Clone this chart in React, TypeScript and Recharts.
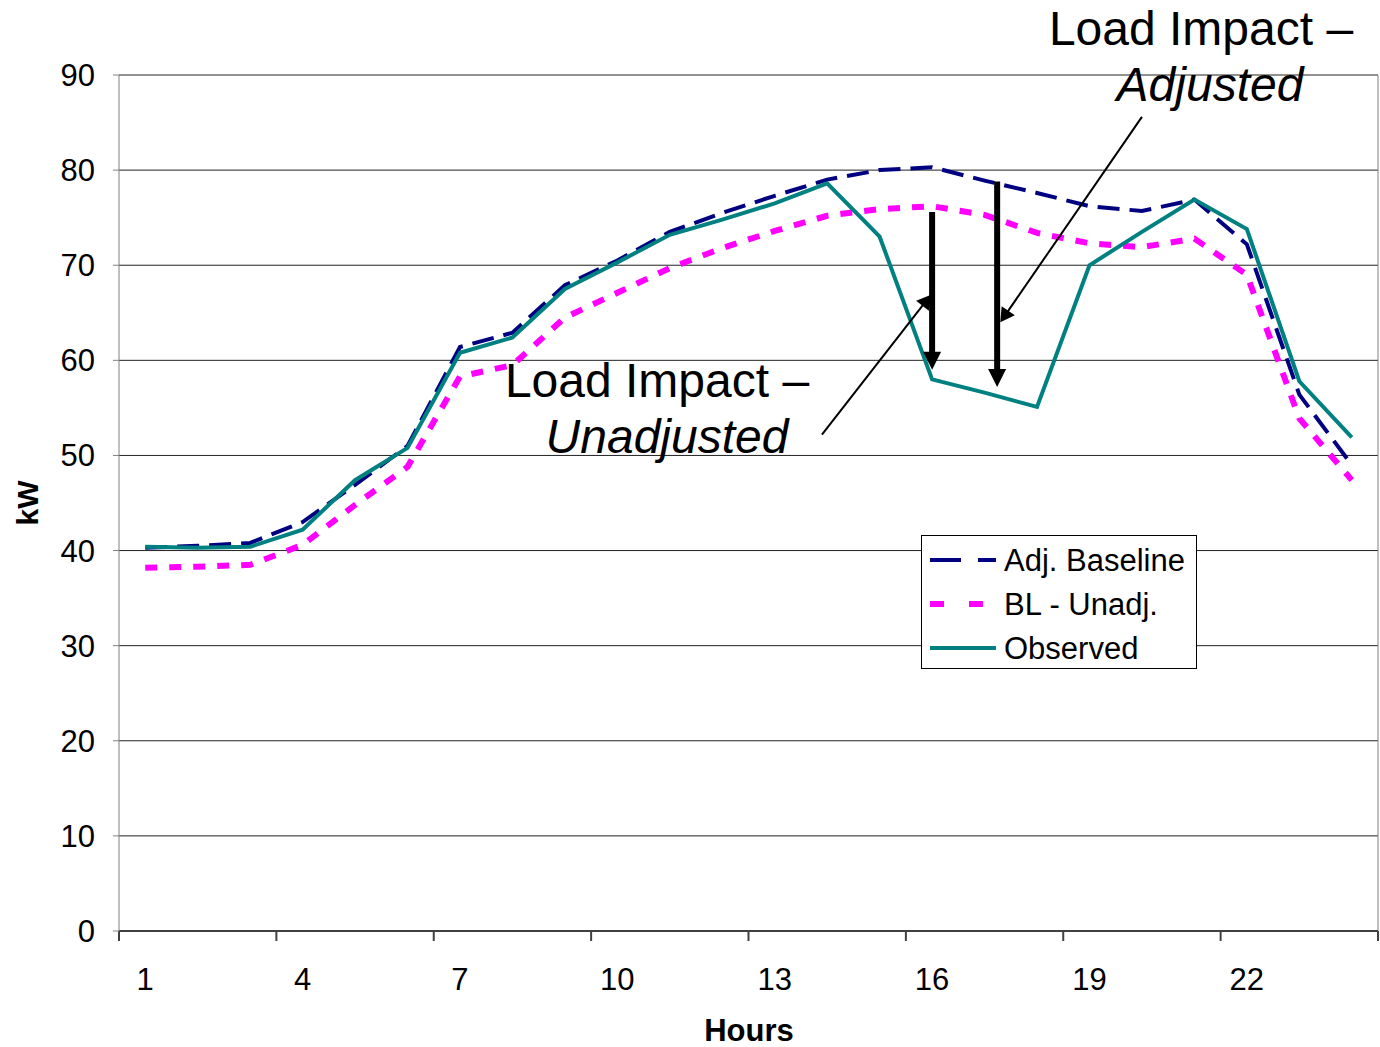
import { LineChart, Line, XAxis, YAxis, CartesianGrid, Legend, ReferenceLine } from "recharts";

const hours = [1, 2, 3, 4, 5, 6, 7, 8, 9, 10, 11, 12, 13, 14, 15, 16, 17, 18, 19, 20, 21, 22, 23, 24];
const adjBaseline = [40.3, 40.5, 40.8, 43.0, 46.9, 51.0, 61.4, 62.9, 67.9, 70.5, 73.5, 75.5, 77.3, 79.0, 80.0, 80.3, 78.9, 77.6, 76.2, 75.7, 76.9, 72.2, 56.4, 49.0];
const blUnadj = [38.2, 38.3, 38.5, 40.6, 44.8, 48.8, 58.3, 59.5, 64.5, 67.1, 69.7, 71.8, 73.6, 75.2, 75.9, 76.2, 75.3, 73.4, 72.3, 71.9, 72.8, 69.0, 53.9, 47.4];
const observed = [40.4, 40.3, 40.4, 42.2, 47.4, 50.8, 60.8, 62.4, 67.5, 70.3, 73.2, 74.8, 76.5, 78.6, 73.0, 58.0, 56.6, 55.1, 70.0, 73.5, 76.9, 73.8, 57.8, 51.9];

const yTicks = [0, 10, 20, 30, 40, 50, 60, 70, 80, 90];
const xLabelTicks = [1, 4, 7, 10, 13, 16, 19, 22];
const xMarkTicks = [0.5, 3.5, 6.5, 9.5, 12.5, 15.5, 18.5, 21.5, 24.5];

const series = [
  { key: "adj", name: "Adj. Baseline", color: "#000080", width: 4, dash: "22 10", legendDash: "31 17" },
  { key: "unadj", name: "BL - Unadj.", color: "#FF00FF", width: 6, dash: "12 12", legendDash: "14 25" },
  { key: "obs", name: "Observed", color: "#008080", width: 4, dash: undefined as string | undefined, legendDash: undefined as string | undefined },
];

// arrows: [from, to] in data units
const thickArrows = [
  [{ x: 16, y: 75.6 }, { x: 16, y: 59.0 }],
  [{ x: 17.24, y: 78.8 }, { x: 17.24, y: 57.2 }],
];
const pointerArrows = [
  [{ x: 13.9, y: 52.2 }, { x: 15.98, y: 66.9 }],
  [{ x: 20.0, y: 85.6 }, { x: 17.3, y: 64.0 }],
];

const data = hours.map((h, i) => ({
  hour: h,
  adj: adjBaseline[i],
  unadj: blUnadj[i],
  obs: observed[i],
}));

const FONT = "'Liberation Sans', Arial, sans-serif";

function arrowShape(width: number, headLen: number, headHalf: number) {
  return (p: any) => {
    const { x1, y1, x2, y2 } = p;
    if ([x1, y1, x2, y2].some((v) => typeof v !== "number" || isNaN(v))) return <g />;
    const dx = x2 - x1;
    const dy = y2 - y1;
    const len = Math.sqrt(dx * dx + dy * dy) || 1;
    const ux = dx / len;
    const uy = dy / len;
    const bx = x2 - ux * headLen;
    const by = y2 - uy * headLen;
    const pts = `${x2},${y2} ${bx - uy * headHalf},${by + ux * headHalf} ${bx + uy * headHalf},${by - ux * headHalf}`;
    return (
      <g>
        <line x1={x1} y1={y1} x2={bx + ux * 2} y2={by + uy * 2} stroke="#000" strokeWidth={width} />
        <polygon points={pts} fill="#000" />
      </g>
    );
  };
}

function LegendBox() {
  return (
    <div
      style={{
        border: "1px solid #000",
        background: "#fff",
        width: 276,
        height: 134,
        boxSizing: "border-box",
        padding: "2px 0 0 8px",
        fontFamily: FONT,
        fontSize: 31,
        color: "#000",
      }}
    >
      {series.map((s) => (
        <div key={s.key} style={{ display: "flex", alignItems: "center", height: 44 }}>
          <svg width={66} height={10} style={{ marginRight: 8 }}>
            <line x1={0} y1={5} x2={66} y2={5} stroke={s.color} strokeWidth={s.width} strokeDasharray={s.legendDash} />
          </svg>
          <span style={{ lineHeight: 1 }}>{s.name}</span>
        </div>
      ))}
    </div>
  );
}

export default function App() {
  return (
    <div style={{ position: "absolute", left: 0, top: 0, width: 1380, height: 1047, background: "#fff" }}>
      <LineChart
        width={1380}
        height={1047}
        data={data}
        margin={{ top: 75, right: 2, left: 0, bottom: 0 }}
        style={{ fontFamily: FONT }}
      >
        <CartesianGrid vertical={false} stroke="#222" strokeWidth={1} />
        <XAxis
          type="number"
          dataKey="hour"
          domain={[0.5, 24.5]}
          ticks={xMarkTicks}
          interval={0}
          tick={{ fontSize: 1, fill: "transparent" }}
          tickFormatter={() => ""}
          tickSize={10}
          height={1}
          stroke="#404040"
          strokeWidth={2}
          allowDataOverflow
        />
        <XAxis
          xAxisId="labels"
          type="number"
          dataKey="hour"
          domain={[0.5, 24.5]}
          ticks={xLabelTicks}
          interval={0}
          tickLine={false}
          axisLine={false}
          tickSize={9}
          tickMargin={27}
          height={115}
          tick={{ fill: "#000", fontSize: 31 }}
          allowDataOverflow
        />
        <YAxis
          domain={[0, 90]}
          ticks={yTicks}
          interval={0}
          width={119}
          tickSize={6}
          tickMargin={18}
          stroke="#808080"
          tick={{ fill: "#000", fontSize: 31 }}
          allowDataOverflow
        />
        <ReferenceLine x={24.5} stroke="#808080" strokeWidth={1} />
        {series.map((s) => (
          <Line
            key={s.key}
            type="linear"
            dataKey={s.key}
            name={s.name}
            stroke={s.color}
            strokeWidth={s.width}
            strokeDasharray={s.dash}
            dot={false}
            activeDot={false}
            isAnimationActive={false}
          />
        ))}
        {thickArrows.map((a, i) => (
          <ReferenceLine key={`t${i}`} segment={a} ifOverflow="visible" shape={arrowShape(6, 18, 9)} />
        ))}
        {pointerArrows.map((a, i) => (
          <ReferenceLine key={`p${i}`} segment={a} ifOverflow="visible" shape={arrowShape(2, 14, 8)} />
        ))}
        <Legend
          layout="horizontal"
          verticalAlign="middle"
          align="center"
          content={() => <LegendBox />}
          wrapperStyle={{ left: 921, top: 535, width: 276, height: 134 }}
        />
      </LineChart>
      <svg
        width={1380}
        height={1047}
        style={{ position: "absolute", left: 0, top: 0, pointerEvents: "none", fontFamily: FONT }}
      >
        <text x={1201} y={45} fontSize={48} textAnchor="middle" fill="#000">Load Impact –</text>
        <text x={1210} y={101} fontSize={48} fontStyle="italic" textAnchor="middle" fill="#000">Adjusted</text>
        <text x={657} y={397} fontSize={48} textAnchor="middle" fill="#000">Load Impact –</text>
        <text x={667} y={453} fontSize={48} fontStyle="italic" textAnchor="middle" fill="#000">Unadjusted</text>
        <text x={38} y={503} fontSize={30} fontWeight="bold" textAnchor="middle" fill="#000" transform="rotate(-90 38 503)">kW</text>
        <text x={749} y={1041} fontSize={31} fontWeight="bold" textAnchor="middle" fill="#000">Hours</text>
      </svg>
    </div>
  );
}
